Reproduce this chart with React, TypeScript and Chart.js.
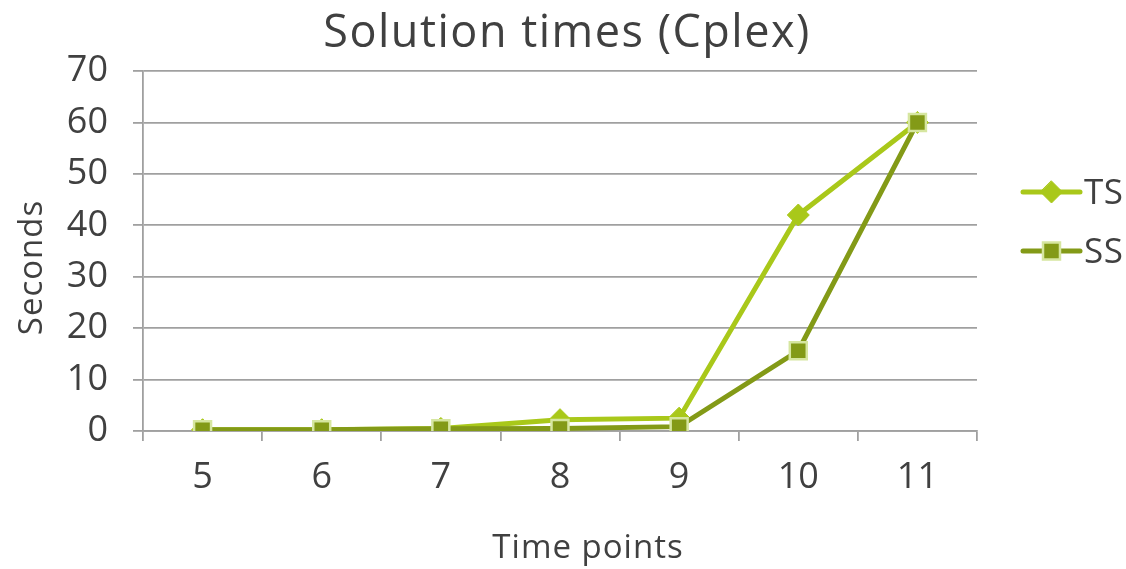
import React, { useEffect, useRef } from "react";
import { Chart, registerables } from "chart.js";

Chart.register(...registerables);

const categories = ["5", "6", "7", "8", "9", "10", "11"];
const tsValues = [0.25, 0.25, 0.5, 2.2, 2.5, 42, 60];
const ssValues = [0.25, 0.25, 0.45, 0.5, 0.85, 15.6, 60];
const seriesNames = ["TS", "SS"];
const chartTitle = "Solution times (Cplex)";
const xTitle = "Time points";
const yTitle = "Seconds";

const FONT = "'Open Sans', sans-serif";
const TEXT = "#404040";
const GRID = "#a0a0a0";
const TS_COLOR = "#a9c81a";
const SS_COLOR = "#839a17";
const SS_BORDER = "#d6e6a0";

const CW = 1126;
const CH = 569;
const AREA = { left: 143, right: 977, top: 71, bottom: 431 };

const textPlugin = {
  id: "texts",
  afterDraw(chart: any) {
    const ctx = chart.ctx;
    ctx.save();
    ctx.fillStyle = TEXT;
    ctx.textBaseline = "alphabetic";
    (ctx as any).letterSpacing = "1.5px";
    ctx.textAlign = "center";
    ctx.font = `45px ${FONT}`;
    ctx.fillText(chartTitle, 567, 47);
    (ctx as any).letterSpacing = "1px";
    ctx.font = `33px ${FONT}`;
    ctx.fillText(xTitle, 588, 558);
    ctx.save();
    ctx.translate(42, 267.5);
    ctx.rotate(-Math.PI / 2);
    ctx.fillText(yTitle, 0, 0);
    ctx.restore();

    // legend
    const items = [
      { y: 192, ds: chart.data.datasets[0] },
      { y: 251, ds: chart.data.datasets[1] },
    ];
    (ctx as any).letterSpacing = "0.5px";
    items.forEach((it) => {
      const ds = it.ds;
      const x1 = 1023;
      const x2 = 1080;
      ctx.strokeStyle = ds.borderColor;
      ctx.lineWidth = ds.borderWidth;
      ctx.lineCap = "round";
      ctx.beginPath();
      ctx.moveTo(x1, it.y);
      ctx.lineTo(x2, it.y);
      ctx.stroke();
      const cx = (x1 + x2) / 2;
      ctx.fillStyle = ds.pointBackgroundColor;
      ctx.strokeStyle = ds.pointBorderColor;
      ctx.lineWidth = ds.pointBorderWidth;
      ctx.beginPath();
      if (ds.pointStyle === "rectRot") {
        const r = ds.pointRadius;
        ctx.moveTo(cx, it.y - r);
        ctx.lineTo(cx + r, it.y);
        ctx.lineTo(cx, it.y + r);
        ctx.lineTo(cx - r, it.y);
        ctx.closePath();
      } else {
        const s = ds.pointRadius * Math.SQRT1_2;
        ctx.rect(cx - s, it.y - s, 2 * s, 2 * s);
      }
      ctx.fill();
      ctx.stroke();
      ctx.fillStyle = TEXT;
      ctx.font = `35px ${FONT}`;
      ctx.textAlign = "left";
      ctx.textBaseline = "alphabetic";
      ctx.fillText(ds.label, x2 + 4, it.y + 12);
    });
    ctx.restore();
  },
};

export default function App() {
  const ref = useRef<HTMLCanvasElement>(null);
  useEffect(() => {
    const prevMargin = document.body.style.margin;
    document.body.style.margin = "0";
    if (!ref.current) return;
    const chart = new Chart(ref.current, {
      type: "line",
      data: {
        labels: categories,
        datasets: [
          {
            label: seriesNames[0],
            data: tsValues,
            borderColor: TS_COLOR,
            backgroundColor: TS_COLOR,
            borderWidth: 5,
            pointStyle: "rectRot",
            pointRadius: 11,
            pointBackgroundColor: TS_COLOR,
            pointBorderColor: TS_COLOR,
            pointBorderWidth: 1,
            tension: 0,
            order: 1,
          },
          {
            label: seriesNames[1],
            data: ssValues,
            borderColor: SS_COLOR,
            backgroundColor: SS_COLOR,
            borderWidth: 5,
            pointStyle: "rect",
            pointRadius: 12,
            pointBackgroundColor: SS_COLOR,
            pointBorderColor: SS_BORDER,
            pointBorderWidth: 2.5,
            tension: 0,
            order: 0,
          },
        ],
      },
      options: {
        responsive: false,
        animation: false,
        layout: {
          padding: { top: AREA.top, right: CW - AREA.right, left: 0, bottom: 0 },
        },
        plugins: {
          legend: { display: false },
          tooltip: { enabled: false },
          title: { display: false },
        },
        scales: {
          x: {
            offset: true,
            grid: {
              display: true,
              offset: true,
              drawOnChartArea: false,
              drawTicks: true,
              tickLength: 10,
              color: GRID,
              lineWidth: 1.8,
            },
            border: { display: true, color: GRID, width: 1.8 },
            ticks: {
              color: TEXT,
              font: { family: FONT, size: 36 },
              padding: 15,
            },
            afterFit: (scale: any) => {
              scale.height = CH - AREA.bottom;
            },
          },
          y: {
            min: 0,
            max: 70,
            ticks: {
              stepSize: 10,
              color: TEXT,
              font: { family: FONT, size: 36 },
              padding: 25,
            },
            grid: {
              color: GRID,
              lineWidth: 1.8,
              tickLength: 10,
            },
            border: { display: true, color: GRID, width: 1.8 },
            afterFit: (scale: any) => {
              scale.width = AREA.left;
            },
          },
        },
      },
      plugins: [textPlugin],
    });
    return () => {
      chart.destroy();
      document.body.style.margin = prevMargin;
    };
  }, []);
  return (
    <canvas
      ref={ref}
      width={CW}
      height={CH}
      style={{ display: "block", width: CW, height: CH }}
    />
  );
}
